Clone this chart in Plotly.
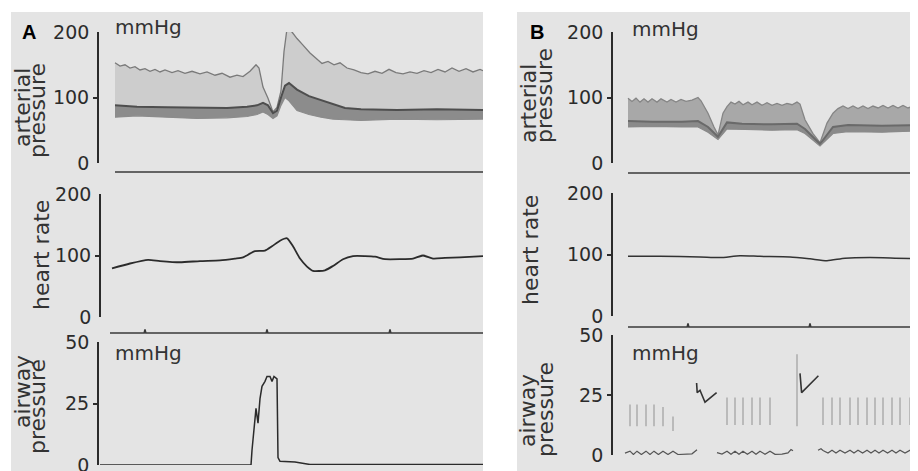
import plotly.graph_objects as go

# ---------------- data (time in s, values in mmHg or beats/min) ----------------
# Panel A - arterial pressure envelopes
a_sys_t = [9, 11.5, 14, 16.5, 19, 21.5, 24, 26.5, 29, 31.5, 34, 37.5, 40.5, 44, 47.5, 51.5, 55, 59, 62.5, 66.5,
           70, 73, 76.5, 79.5, 81, 83, 85.5, 88, 90, 92, 93.5, 95, 97.5, 100, 103, 106.5, 109.5, 112.5, 115.5, 118.5,
           121.5, 125, 128.5, 132, 135.5, 139, 142.5, 146, 149.5, 153, 156.5, 160, 163.5, 167, 170.5, 174, 177.5, 181,
           184.5, 188, 191.5, 193]
a_sys = [153, 148, 150, 145, 147, 142, 144, 140, 143, 139, 142, 138, 141, 137, 140, 136, 139, 134, 137, 131,
         134, 132, 140, 150, 145, 116, 99, 78, 85, 110, 170, 205, 200, 190, 180, 168, 160, 152, 155, 150,
         153, 145, 142, 138, 136, 140, 137, 143, 138, 136, 139, 137, 141, 138, 143, 139, 145, 140, 144, 139,
         143, 141]
a_dia_t = [9, 20, 35, 50, 65, 75, 80, 83, 85.5, 88, 90, 92, 94, 96, 100, 106, 112, 118, 124, 132, 150, 170, 193]
a_dia_hi = [88, 86, 85, 84, 84, 86, 88, 92, 88, 76, 80, 100, 118, 122, 112, 102, 96, 90, 84, 82, 81, 82, 81]
a_dia_lo = [70, 72, 70, 68, 69, 71, 74, 78, 74, 68, 72, 88, 100, 95, 80, 74, 70, 67, 66, 65, 67, 66, 67]

# Panel A - heart rate
a_hr_t = [7.5, 16.5, 25.5, 31.5, 41.5, 51.5, 61.5, 69, 73, 76.5, 79, 84, 87.5, 91.5, 95, 98, 101.5, 105, 108, 114,
          118, 123, 128, 134, 139, 144, 151.5, 158, 163, 168, 174, 181.5, 193]
a_hr = [79, 87, 93, 91, 89, 91, 92, 95, 97, 103, 107, 108, 115, 124, 128, 115, 95, 82, 75, 76,
        83, 94, 99, 99, 98, 94, 94, 95, 100, 95, 96, 97, 99]

# Panel A - airway pressure
a_aw_t = [1.5, 77, 77.5, 78.5, 79.5, 80, 80.5, 81.5, 82.5, 84, 85, 86.5, 87.5, 88.5, 90, 90.5, 91.5, 99, 104, 106.5, 193]
a_aw = [0, 0, 6, 14, 23, 20, 17, 27, 32, 34, 36, 36, 34, 36, 35, 3, 1.5, 1.2, 0.5, 0.2, 0.2]

# Panel A - event marker channels
a_sep1_span = [9, 193]
a_sep1_evt = []
a_sep2_span = [6.5, 193]
a_sep2_evt = [24, 85, 146.5]

# Panel B - arterial pressure envelopes
b_sys_t = [8, 10, 12, 14, 16, 18, 20, 22.5, 24.5, 27.5, 29.5, 32, 34.5, 37, 40, 43, 44.5, 48, 51, 53,
           55.5, 57.5, 59.5, 61.5, 63.5, 65.5, 68, 70, 72.5, 75, 77.5, 80, 82.5, 85, 87.5, 90, 92.5, 94, 96.5, 100.5,
           104, 107.5, 110.5, 113, 115.5, 118, 120.5, 123, 125.5, 128, 130.5, 133, 135.5, 138, 140.5, 143, 145.5,
           148, 150.5, 153]
b_sys = [99, 94, 99, 93, 98, 93, 98, 93, 98, 93, 97, 93, 97, 94, 96, 100, 95, 76, 55, 43,
         76, 86, 93, 90, 94, 89, 93, 89, 93, 88, 92, 88, 91, 88, 91, 89, 93, 90, 66, 45,
         31, 61, 76, 83, 87, 83, 87, 83, 87, 83, 87, 84, 88, 84, 88, 84, 88, 84, 87, 85]
b_dia_t = [8, 20, 35, 43, 48, 53, 57.5, 65, 80, 92.5, 96.5, 104, 110.5, 118, 135, 153]
b_dia_hi = [64, 63, 63, 64, 55, 40, 62, 60, 59, 60, 52, 29, 55, 58, 57, 58]
b_dia_lo = [55, 56, 55, 55, 47, 36, 52, 51, 50, 51, 45, 26, 45, 48, 47, 49]

# Panel B - heart rate
b_hr_t = [8, 24, 44, 54, 64, 74, 89, 99, 107.5, 116.5, 129, 141.5, 153]
b_hr = [97, 97, 96, 95, 98, 97, 96, 93, 90, 94, 95, 94, 93]

# Panel B - airway pressure (baseline, ventilator strokes, manual inflations)
b_base_t = [6.5, 9, 10.7, 12.5, 14.7, 17, 19, 21, 23.2, 25.5, 28, 30.5, 33, 36, 40, 42.5, None,
            52.5, 55, 57.5, 59.5, 61.5, 63.5, 65.5, 67.7, 70, 72, 74, 76.5, 79, 81.5, 85, 88, 89.5, 90.5, None,
            103, 104.5, 105.5, 108, 110, 112, 114, 116.5, 119, 121, 123, 125.3, 127.5, 129.5, 131.5, 133.5,
            135.5, 137.8, 140, 142, 144, 146.5, 149, 151, 153]
b_base = [0.8, 1.6, 0.2, 1.6, 0.2, 1.6, 0.2, 1.6, 0.2, 1.6, 0.2, 1.6, 0.2, 0.2, 0.5, 2.2, None,
          1.0, 0.4, 1.6, 0.3, 1.6, 0.3, 1.6, 0.3, 1.6, 0.3, 1.6, 0.3, 1.6, 0.3, 0.4, 0.9, 2.3, 1.8, None,
          2.0, 2.6, 1.9, 0.8, 2.0, 0.8, 2.0, 0.8, 2.0, 0.8, 2.0, 0.8, 2.0, 0.8, 2.0, 0.8,
          2.0, 0.8, 2.0, 0.8, 2.0, 0.8, 2.0, 0.8, 1.6]
b_spk_t = [9, 12.5, 17, 21, 25.5, 30.5, 57.5, 61.5, 65.5, 70, 74, 79, 92.5,
           105.5, 110, 114, 119, 123, 127.5, 131.5, 135.5, 140, 144, 149]
b_spk_lo = [12, 12, 12, 12, 12, 10, 12.5, 12.5, 12.5, 12.5, 12.5, 12.5, 12,
            12.5, 12.5, 12.5, 12.5, 12.5, 12.5, 12.5, 12.5, 12.5, 12.5, 12.5]
b_spk_hi = [21, 21, 21, 21, 20, 16, 24, 24, 24, 24, 24, 24, 42,
            24, 24, 24, 24, 24, 24, 24, 24, 24, 24, 24]
b_str_t = [42.3, 42.6, 44, 46.5, 52.3, None, 94, 94.8, 103.2]
b_str = [30, 26, 27, 22, 26, None, 34, 26, 33]

# Panel B - event marker channels
b_sep1_span = [8, 153]
b_sep1_evt = []
b_sep2_span = [8, 153]
b_sep2_evt = [38, 99]

# tick labels / titles
ap_ticks = [0, 100, 200]
hr_ticks = [0, 100, 200]
aw_ticks = [0, 25, 50]

# ---------------- layout helpers ----------------
# the page body has an 8 px margin, so the figure is drawn 8 px in from the window's top-left
OFF = 8
WIN_W, WIN_H = 918, 471
W, H = WIN_W - OFF, WIN_H - OFF
FONT = "DejaVu Sans"
INK = "#2b2b2b"


def fx(p):
    return (p - OFF) / W


def fy(p):
    return 1 - (p - OFF) / H


fig = go.Figure()
layout = dict(width=W, height=H, autosize=False, margin=dict(l=0, r=0, t=0, b=0, pad=0, autoexpand=False),
              paper_bgcolor="white", plot_bgcolor="rgba(0,0,0,0)", showlegend=False)

# panel geometry (window pixels)
panels = {
    "A": dict(xdom=(97, 483), xr=(0, 193),
              rows=[dict(kind="ap", bot=163, top=32, axx=98, ticks=ap_ticks),
                    dict(kind="sep", line=172),
                    dict(kind="hr", bot=317, top=194, axx=100, ticks=hr_ticks),
                    dict(kind="sep", line=333),
                    dict(kind="aw", bot=465, top=342, axx=98, ticks=aw_ticks)]),
    "B": dict(xdom=(612, 918), xr=(0, 153),
              rows=[dict(kind="ap", bot=163, top=32, axx=612, ticks=ap_ticks),
                    dict(kind="sep", line=173),
                    dict(kind="hr", bot=316, top=193, axx=612, ticks=hr_ticks),
                    dict(kind="sep", line=327),
                    dict(kind="aw", bot=455, top=335, axx=612, ticks=aw_ticks)]),
}

axis_refs = {}
n = 0
overlay_n = 10
tickfont = dict(family=FONT, size=19, color=INK)
for pname, p in panels.items():
    for i, r in enumerate(p["rows"]):
        n += 1
        xk = "xaxis" if n == 1 else f"xaxis{n}"
        yk = "yaxis" if n == 1 else f"yaxis{n}"
        xr_ = "x" if n == 1 else f"x{n}"
        yr_ = "y" if n == 1 else f"y{n}"
        axis_refs[(pname, i)] = (xr_, yr_)
        layout[xk] = dict(domain=[fx(p["xdom"][0]), fx(p["xdom"][1])], range=list(p["xr"]),
                          anchor=yr_, visible=False, fixedrange=True, automargin=False)
        if r["kind"] == "sep":
            layout[yk] = dict(domain=[fy(r["line"] + 5), fy(r["line"] - 5)], range=[0, 1],
                              anchor=xr_, visible=False, fixedrange=True, automargin=False)
        else:
            t = r["ticks"]
            layout[yk] = dict(domain=[fy(r["bot"]), fy(r["top"])], range=[t[0], t[2]],
                              anchor="free", position=fx(r["axx"]), automargin=False,
                              showgrid=False, zeroline=False, showline=True, linecolor=INK, linewidth=1.7,
                              ticks="inside", ticklen=9, tickwidth=1.7, tickcolor=INK,
                              tickmode="array", tickvals=[t[0], t[2]], ticktext=[str(t[0]), str(t[2])],
                              tickfont=tickfont, ticklabelstandoff=4, ticklabeloverflow="allow",
                              fixedrange=True)
            overlay_n += 1
            ok = f"yaxis{overlay_n}"
            layout[ok] = dict(overlaying=yr_, range=[t[0], t[2]], anchor="free", position=fx(r["axx"]),
                              showgrid=False, zeroline=False, showline=False, automargin=False,
                              ticks="outside", ticklen=5, tickwidth=1.7, tickcolor=INK,
                              tickmode="array", tickvals=[t[1]], ticktext=[str(t[1])],
                              tickfont=tickfont, ticklabeloverflow="allow", fixedrange=True)
            fig.add_trace(go.Scatter(x=[None], y=[None], xaxis=xr_, yaxis=f"y{overlay_n}",
                                     hoverinfo="skip", showlegend=False))


def add(trace, pname, row):
    xr_, yr_ = axis_refs[(pname, row)]
    trace.update(xaxis=xr_, yaxis=yr_, hoverinfo="skip", showlegend=False)
    fig.add_trace(trace)


def band(t_sys, sys, t_dia, hi, lo, pname, fill_c, dark_c, line_c, sys_c):
    add(go.Scatter(x=t_sys + t_dia[::-1], y=sys + lo[::-1], mode="lines", fill="toself",
                   fillcolor=fill_c, line=dict(width=0)), pname, 0)
    add(go.Scatter(x=t_dia + t_dia[::-1], y=hi + lo[::-1], mode="lines", fill="toself",
                   fillcolor=dark_c, line=dict(width=0)), pname, 0)
    add(go.Scatter(x=t_sys, y=sys, mode="lines", line=dict(color=sys_c, width=1.3)), pname, 0)
    add(go.Scatter(x=t_dia, y=hi, mode="lines", line=dict(color=line_c, width=2)), pname, 0)
    add(go.Scatter(x=t_dia, y=lo, mode="lines", line=dict(color=dark_c, width=1.2)), pname, 0)


def marker(span, events, pname, row):
    xs, ys = [span[0]], [0.5]
    for e in events:
        xs += [e - 0.4, e, e + 0.4]
        ys += [0.5, 0.85, 0.5]
    xs.append(span[1])
    ys.append(0.5)
    add(go.Scatter(x=xs, y=ys, mode="lines", line=dict(color="#3a3a3a", width=1.6)), pname, row)


# Panel A
band(a_sys_t, a_sys, a_dia_t, a_dia_hi, a_dia_lo, "A", "#cdcdcd", "#8c8c8c", "#4e4e4e", "#7a7a7a")
marker(a_sep1_span, a_sep1_evt, "A", 1)
add(go.Scatter(x=a_hr_t, y=a_hr, mode="lines", line=dict(color=INK, width=1.8, shape="spline", smoothing=0.6)), "A", 2)
marker(a_sep2_span, a_sep2_evt, "A", 3)
add(go.Scatter(x=a_aw_t, y=a_aw, mode="lines", line=dict(color=INK, width=1.5)), "A", 4)

# Panel B
band(b_sys_t, b_sys, b_dia_t, b_dia_hi, b_dia_lo, "B", "#a8a8a8", "#8a8a8a", "#6a6a6a", "#858585")
marker(b_sep1_span, b_sep1_evt, "B", 1)
add(go.Scatter(x=b_hr_t, y=b_hr, mode="lines", line=dict(color="#333333", width=1.5, shape="spline", smoothing=0.6)), "B", 2)
marker(b_sep2_span, b_sep2_evt, "B", 3)
sx, sy = [], []
for t, lo, hi in zip(b_spk_t, b_spk_lo, b_spk_hi):
    sx += [t, t, None]
    sy += [lo, hi, None]
add(go.Scatter(x=sx, y=sy, mode="lines", line=dict(color="#9e9e9e", width=1.2)), "B", 4)
add(go.Scatter(x=b_base_t, y=b_base, mode="lines", line=dict(color="#555555", width=1.2)), "B", 4)
add(go.Scatter(x=b_str_t, y=b_str, mode="lines", line=dict(color="#333333", width=1.6)), "B", 4)

# backgrounds of the two scanned panels
layout["shapes"] = [
    dict(type="rect", xref="paper", yref="paper", x0=fx(11), x1=fx(483), y0=0, y1=fy(12),
         fillcolor="#e4e4e4", line=dict(width=0), layer="below"),
    dict(type="rect", xref="paper", yref="paper", x0=fx(517), x1=1, y0=0, y1=fy(12),
         fillcolor="#e4e4e4", line=dict(width=0), layer="below"),
]

# text
tfont = dict(family=FONT, size=22, color="#333333")
ufont = dict(family=FONT, size=20, color="#333333")
lfont = dict(family="Liberation Sans", size=20, color="black", weight="bold")
ann = []


def vtext(txt, xc, yc):
    ann.append(dict(text=txt, x=fx(xc), y=fy(yc), xref="paper", yref="paper", textangle=-90,
                    xanchor="center", yanchor="middle", showarrow=False, font=tfont))


def htext(txt, xl, yc, font):
    ann.append(dict(text=txt, x=fx(xl), y=fy(yc), xref="paper", yref="paper",
                    xanchor="left", yanchor="middle", showarrow=False, font=font))


vtext("arterial", 23, 108)
vtext("pressure", 38, 111)
vtext("heart rate", 41, 255)
vtext("airway", 22, 392)
vtext("pressure", 37, 406)
vtext("arterial", 528, 104)
vtext("pressure", 544, 96)
vtext("heart rate", 531, 250)
vtext("airway", 527, 411)
vtext("pressure", 545, 410)
htext("mmHg", 113, 27, ufont)
htext("mmHg", 113, 353, ufont)
htext("mmHg", 630, 29, ufont)
htext("mmHg", 630, 353, ufont)
htext("A", 20, 32, lfont)
htext("B", 528, 32, lfont)
layout["annotations"] = ann

fig.update_layout(**layout)
fig.write_html("out.html")
